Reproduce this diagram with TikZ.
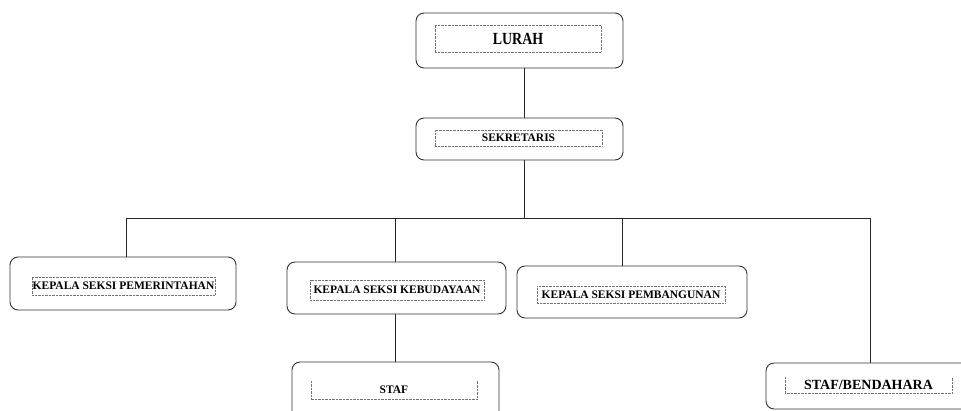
\documentclass[tikz,border=0pt]{standalone}
\usepackage{fontspec}
\setmainfont{Liberation Serif}
\begin{document}
\begin{tikzpicture}[x=1pt,y=-1pt,
  outbox/.style={draw=black!80, line width=0.9pt, rounded corners=8pt, inner sep=0pt},
  inbox/.style={draw=black!55, line width=0.6pt, dash pattern=on 0.7pt off 0.7pt, inner sep=0pt, font=\fontsize{11.5}{13}\selectfont\bfseries},
  opentop/.style={inner sep=0pt, font=\fontsize{11.5}{13}\selectfont\bfseries},
  dotline/.style={draw=black!55, line width=0.6pt, dash pattern=on 0.7pt off 0.7pt},
  conn/.style={draw=black!85, line width=0.9pt}]
\useasboundingbox (0,0) rectangle (961,410);
% outer boxes
\node[outbox, minimum width=207pt, minimum height=55pt] (lurah) at (519.5,40.5) {};
\node[outbox, minimum width=207pt, minimum height=42pt] (sek) at (519.5,139) {};
\node[outbox, minimum width=226pt, minimum height=53pt] (pem) at (123,283.5) {};
\node[outbox, minimum width=219pt, minimum height=52pt] (keb) at (396.5,288) {};
\node[outbox, minimum width=230pt, minimum height=52pt] (bang) at (632,292) {};
\node[outbox, minimum width=207pt, minimum height=78pt] (staf) at (395.5,401) {};
\node[outbox, minimum width=219pt, minimum height=46pt] (bend) at (875.5,386) {};
% inner dotted boxes with text
\node[inbox, minimum width=166pt, minimum height=27pt, font=\fontsize{17}{19}\selectfont\bfseries] (lurahin) at (518,38.5) {\scalebox{0.82}[1]{LURAH}};
\node[inbox, minimum width=167pt, minimum height=16pt] (sekin) at (518.5,138) {SEKRETARIS};
\node[inbox, minimum width=183pt, minimum height=18pt] (pemin) at (123.5,286) {KEPALA SEKSI PEMERINTAHAN};
\node[inbox, minimum width=174pt, minimum height=20pt] (kebin) at (397,290) {KEPALA SEKSI KEBUDAYAAN};
\node[inbox, minimum width=188pt, minimum height=17pt] (bangin) at (631,294.5) {KEPALA SEKSI PEMBANGUNAN};
\node[opentop, minimum width=166pt, minimum height=18pt] (stafin) at (394,390) {STAF};
\node[opentop, minimum width=167pt, minimum height=16pt, font=\fontsize{14}{16}\selectfont\bfseries] (bendin) at (868.5,385) {STAF/BENDAHARA};
\draw[dotline] (stafin.north west) -- (stafin.south west) -- (stafin.south east) -- (stafin.north east);
\draw[dotline] (bendin.north west) -- (bendin.south west) -- (bendin.south east) -- (bendin.north east);
% connectors
\coordinate (top) at (524,218);
\coordinate (b1) at (126,218);
\coordinate (b2) at (395,218);
\coordinate (b3) at (622,218);
\coordinate (b4) at (870,218);
\draw[conn] (top |- lurah.south) -- (top |- sek.north);
\draw[conn] (top |- sek.south) -- (top);
\draw[conn] (b1) -- (b4);
\draw[conn] (b1) -- (b1 |- pem.north);
\draw[conn] (b2) -- (b2 |- keb.north);
\draw[conn] (b3) -- (b3 |- bang.north);
\draw[conn] (b4) -- (b4 |- bend.north);
\draw[conn] (b2 |- keb.south) -- (b2 |- staf.north);
\end{tikzpicture}
\end{document}
